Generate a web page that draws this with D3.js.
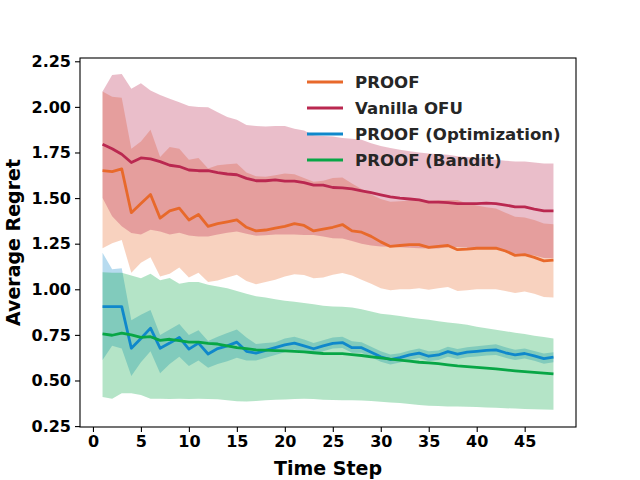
<!DOCTYPE html>
<html>
<head>
<meta charset="utf-8">
<script src="https://cdn.jsdelivr.net/npm/d3@7"></script>
<style>
  body { margin: 0; background: #fff; }
  text { font-family: "DejaVu Sans", sans-serif; font-weight: bold; }
</style>
</head>
<body>
<svg width="640" height="480"></svg>
<script>
// time steps 1..48
const steps = d3.range(1, 49)

const proofMean = [1.65, 1.645, 1.66, 1.42, 1.47, 1.52, 1.39, 1.43, 1.445, 1.38, 1.41, 1.345, 1.36, 1.37, 1.38, 1.34,
    1.32, 1.325, 1.335, 1.345, 1.36, 1.35, 1.32, 1.33, 1.34, 1.355, 1.32, 1.313, 1.29, 1.26, 1.235, 1.24,
    1.245, 1.245, 1.23, 1.235, 1.24, 1.217, 1.22, 1.225, 1.225, 1.226, 1.21, 1.186, 1.19, 1.175, 1.156, 1.16]
const proofUpper = [2.085, 2.055, 2.05, 1.77, 1.81, 1.875, 1.725, 1.78, 1.77, 1.71, 1.72, 1.662, 1.68, 1.685, 1.69, 1.64,
    1.62, 1.617, 1.625, 1.635, 1.63, 1.61, 1.59, 1.595, 1.61, 1.613, 1.58, 1.55, 1.52, 1.495, 1.48, 1.483,
    1.487, 1.487, 1.485, 1.488, 1.49, 1.49, 1.47, 1.46, 1.45, 1.443, 1.42, 1.398, 1.394, 1.38, 1.36, 1.357]
const proofLower = [1.225, 1.253, 1.27, 1.09, 1.145, 1.175, 1.07, 1.085, 1.12, 1.065, 1.09, 1.04, 1.048, 1.065, 1.08, 1.045,
    1.027, 1.04, 1.052, 1.07, 1.082, 1.078, 1.06, 1.065, 1.08, 1.089, 1.075, 1.052, 1.03, 1.005, 0.995, 1.0,
    1.0, 1.005, 0.998, 1.005, 1.012, 0.99, 0.995, 1.0, 1.0, 1.0, 0.99, 0.98, 0.988, 0.975, 0.958, 0.955]

const ofuMean = [1.795, 1.77, 1.74, 1.695, 1.72, 1.715, 1.70, 1.68, 1.673, 1.654, 1.65, 1.65, 1.64, 1.632, 1.628, 1.608,
    1.595, 1.595, 1.60, 1.593, 1.593, 1.585, 1.571, 1.571, 1.558, 1.556, 1.55, 1.54, 1.53, 1.518, 1.507, 1.50,
    1.495, 1.49, 1.478, 1.478, 1.475, 1.47, 1.47, 1.47, 1.472, 1.47, 1.462, 1.452, 1.452, 1.44, 1.43, 1.43]
const ofuUpper = [2.085, 2.175, 2.18, 2.10, 2.13, 2.09, 2.065, 2.045, 2.026, 2.005, 2.0, 1.998, 1.97, 1.945, 1.93, 1.90,
    1.895, 1.893, 1.895, 1.895, 1.88, 1.87, 1.845, 1.84, 1.838, 1.83, 1.825, 1.82, 1.80, 1.785, 1.775, 1.765,
    1.757, 1.75, 1.745, 1.74, 1.737, 1.73, 1.725, 1.72, 1.715, 1.71, 1.705, 1.70, 1.70, 1.695, 1.69, 1.69]
const ofuLower = [1.50, 1.40, 1.345, 1.308, 1.30, 1.326, 1.317, 1.30, 1.31, 1.295, 1.29, 1.29, 1.30, 1.31, 1.317, 1.305,
    1.294, 1.296, 1.30, 1.30, 1.30, 1.298, 1.297, 1.29, 1.28, 1.278, 1.265, 1.25, 1.24, 1.235, 1.233, 1.23,
    1.228, 1.225, 1.224, 1.224, 1.232, 1.232, 1.228, 1.226, 1.226, 1.224, 1.205, 1.195, 1.19, 1.185, 1.172, 1.17]

const optMean = [0.905, 0.905, 0.905, 0.677, 0.73, 0.787, 0.677, 0.705, 0.736, 0.672, 0.705, 0.645, 0.675, 0.69, 0.71, 0.66,
    0.65, 0.665, 0.68, 0.695, 0.705, 0.69, 0.674, 0.69, 0.703, 0.708, 0.68, 0.68, 0.655, 0.63, 0.615, 0.625,
    0.64, 0.65, 0.633, 0.64, 0.658, 0.645, 0.655, 0.66, 0.665, 0.668, 0.652, 0.64, 0.648, 0.635, 0.62, 0.628]
const optUpper = [1.20, 1.11, 1.115, 0.83, 0.86, 0.887, 0.75, 0.78, 0.81, 0.75, 0.775, 0.716, 0.74, 0.76, 0.78, 0.735,
    0.70, 0.705, 0.71, 0.73, 0.74, 0.725, 0.705, 0.72, 0.735, 0.74, 0.715, 0.71, 0.685, 0.66, 0.642, 0.65,
    0.665, 0.675, 0.66, 0.665, 0.685, 0.672, 0.682, 0.688, 0.693, 0.698, 0.682, 0.668, 0.676, 0.662, 0.648, 0.655]
const optLower = [0.612, 0.69, 0.675, 0.525, 0.60, 0.66, 0.54, 0.59, 0.63, 0.58, 0.61, 0.57, 0.59, 0.605, 0.625, 0.61,
    0.61, 0.625, 0.64, 0.655, 0.67, 0.655, 0.645, 0.66, 0.675, 0.678, 0.652, 0.652, 0.628, 0.603, 0.588, 0.598,
    0.613, 0.623, 0.606, 0.613, 0.63, 0.618, 0.628, 0.632, 0.637, 0.64, 0.624, 0.612, 0.62, 0.608, 0.592, 0.60]

const banditMean = [0.755, 0.748, 0.76, 0.75, 0.736, 0.74, 0.72, 0.726, 0.718, 0.71, 0.71, 0.703, 0.70, 0.69, 0.68, 0.675,
    0.668, 0.666, 0.664, 0.662, 0.66, 0.657, 0.652, 0.648, 0.647, 0.647, 0.642, 0.637, 0.63, 0.624, 0.617, 0.612,
    0.606, 0.60, 0.597, 0.592, 0.586, 0.58, 0.576, 0.572, 0.568, 0.564, 0.558, 0.553, 0.549, 0.545, 0.54, 0.536]
const banditUpper = [1.094, 1.09, 1.09, 1.075, 1.06, 1.085, 1.05, 1.062, 1.03, 1.04, 1.04, 1.025, 1.015, 1.005, 0.99, 0.975,
    0.962, 0.955, 0.945, 0.937, 0.932, 0.925, 0.918, 0.91, 0.906, 0.904, 0.90, 0.89, 0.878, 0.866, 0.86, 0.853,
    0.845, 0.838, 0.833, 0.825, 0.818, 0.812, 0.805, 0.795, 0.786, 0.778, 0.77, 0.762, 0.755, 0.745, 0.738, 0.73]
const banditLower = [0.41, 0.40, 0.43, 0.43, 0.42, 0.40, 0.40, 0.398, 0.40, 0.398, 0.40, 0.398, 0.397, 0.392, 0.386, 0.385,
    0.388, 0.392, 0.394, 0.396, 0.398, 0.40, 0.398, 0.395, 0.393, 0.392, 0.391, 0.39, 0.388, 0.384, 0.38, 0.376,
    0.371, 0.366, 0.362, 0.36, 0.358, 0.357, 0.356, 0.354, 0.352, 0.35, 0.348, 0.346, 0.344, 0.342, 0.341, 0.34]

const seriesNames = ["PROOF", "Vanilla OFU", "PROOF (Optimization)", "PROOF (Bandit)"]
const seriesColors = ["#e8692b", "#ba2850", "#0f88cb", "#08a646"]
const xTicks = [0, 5, 10, 15, 20, 25, 30, 35, 40, 45]
const yTicks = [0.25, 0.50, 0.75, 1.00, 1.25, 1.50, 1.75, 2.00, 2.25]

const series = [
    {mean: proofMean, lo: proofLower, hi: proofUpper},
    {mean: ofuMean, lo: ofuLower, hi: ofuUpper},
    {mean: optMean, lo: optLower, hi: optUpper},
    {mean: banditMean, lo: banditLower, hi: banditUpper},
].map((s, i) => ({
    name: seriesNames[i],
    color: seriesColors[i],
    points: steps.map((t, j) => ({t, m: s.mean[j], lo: s.lo[j], hi: s.hi[j]}))
}))

const margin = {top: 58, right: 64, bottom: 53, left: 80}
const width = 640 - margin.left - margin.right
const height = 480 - margin.top - margin.bottom

const svg = d3.select("svg")
    .append("g")
    .attr("transform", `translate(${margin.left},${margin.top})`)

const xscl = d3.scaleLinear().domain([-1.35, 50.35]).range([0, width])
const yscl = d3.scaleLinear().domain([0.245, 2.268]).range([height, 0])

// bands
const area = d3.area()
    .x(d => xscl(d.t))
    .y0(d => yscl(d.lo))
    .y1(d => yscl(d.hi))

svg.selectAll(".band")
    .data(series)
    .enter().append("path")
    .attr("class", "band")
    .attr("d", d => area(d.points))
    .attr("fill", d => d.color)
    .attr("fill-opacity", 0.3)
    .attr("stroke", "none")

// mean lines
const line = d3.line()
    .x(d => xscl(d.t))
    .y(d => yscl(d.m))

svg.selectAll(".line")
    .data(series)
    .enter().append("path")
    .attr("class", "line")
    .attr("d", d => line(d.points))
    .attr("fill", "none")
    .attr("stroke", d => d.color)
    .attr("stroke-width", 2.8)
    .attr("stroke-linejoin", "round")

// axes
const x_axis = d3.axisBottom(xscl).tickValues(xTicks).tickSize(5).tickPadding(4)
const y_axis = d3.axisLeft(yscl).tickValues(yTicks).tickSize(5).tickPadding(4).tickFormat(d3.format(".2f"))

svg.append("g")
    .attr("transform", `translate(0,${height})`)
    .call(x_axis)
svg.append("g").call(y_axis)

svg.selectAll(".domain").remove()
svg.selectAll(".tick line").attr("stroke", "#000").attr("stroke-width", 1.1)
svg.selectAll(".tick text")
    .attr("fill", "#000")
    .style("font-size", "16px")
    .style("font-family", "DejaVu Sans")
    .style("font-weight", "bold")

// frame
svg.append("rect")
    .attr("x", 0).attr("y", 0)
    .attr("width", width).attr("height", height)
    .attr("fill", "none")
    .attr("stroke", "#000")
    .attr("stroke-width", 1.1)

// axis labels
svg.append("text")
    .attr("x", width / 2)
    .attr("y", height + 48)
    .attr("text-anchor", "middle")
    .style("font-size", "19px")
    .text("Time Step")

svg.append("text")
    .attr("transform", `translate(${-60},${height / 2}) rotate(-90)`)
    .attr("text-anchor", "middle")
    .style("font-size", "19px")
    .text("Average Regret")

// legend
const legend = svg.append("g").attr("transform", `translate(${307 - margin.left},${82 - margin.top})`)
const entries = legend.selectAll(".entry")
    .data(series)
    .enter().append("g")
    .attr("class", "entry")
    .attr("transform", (d, i) => `translate(0,${i * 26})`)

entries.append("line")
    .attr("x1", 0).attr("x2", 36)
    .attr("y1", 0).attr("y2", 0)
    .attr("stroke", d => d.color)
    .attr("stroke-width", 2.8)

entries.append("text")
    .attr("x", 48)
    .attr("y", 6)
    .attr("fill", "#262626")
    .style("font-size", "16.6px")
    .text(d => d.name)
</script>
</body>
</html>
